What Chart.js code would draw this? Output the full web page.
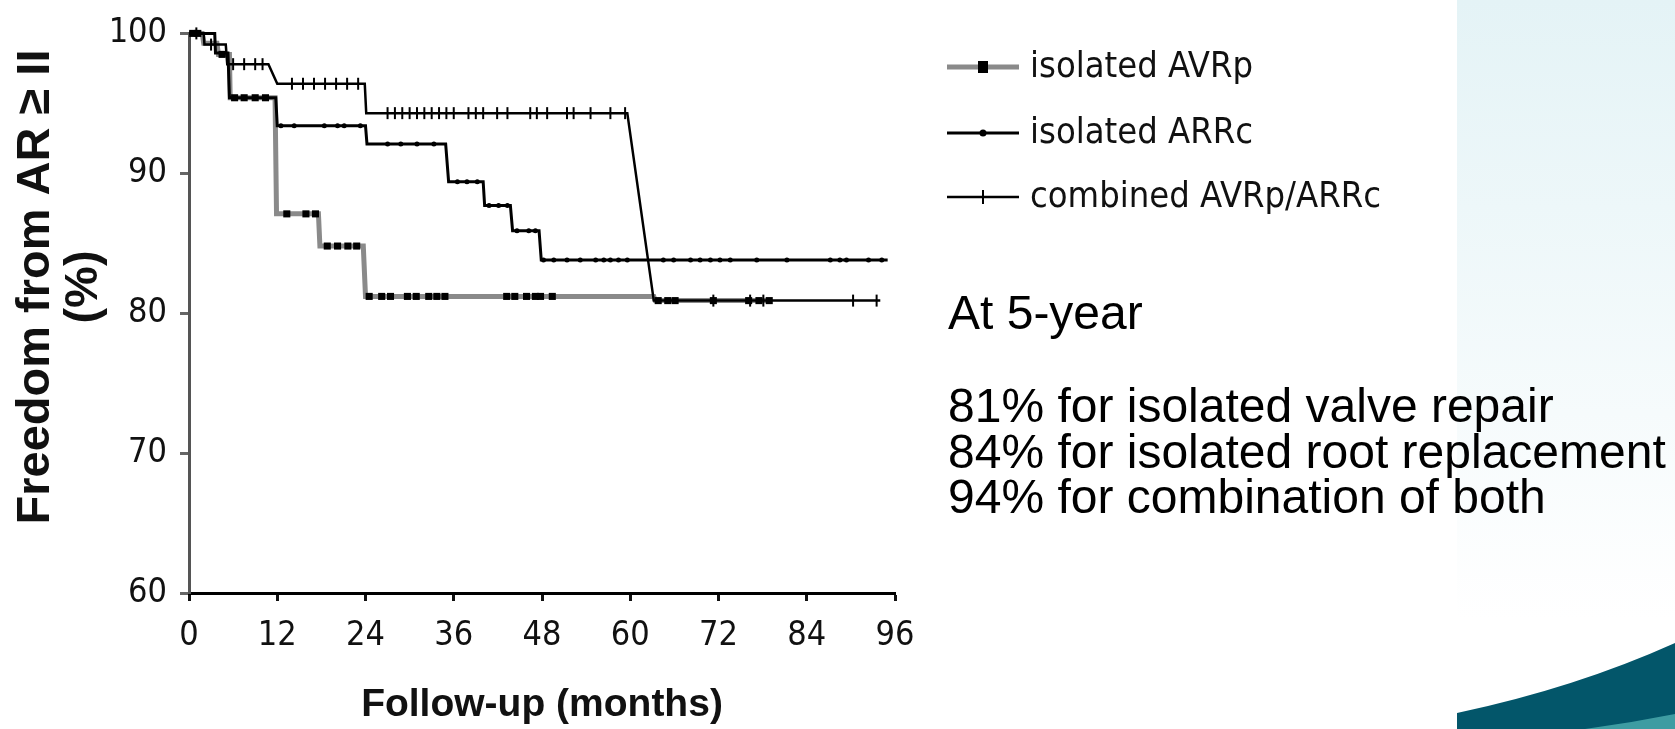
<!DOCTYPE html>
<html>
<head>
<meta charset="utf-8">
<script src="https://cdn.jsdelivr.net/npm/chart.js@4.4.1/dist/chart.umd.min.js"></script>
<style>
  html, body { margin: 0; padding: 0; background: #fff; }
  canvas { display: block; }
</style>
</head>
<body>
<canvas id="km-chart" width="1675" height="729"></canvas>
<script>
// series names and axis ticks
const seriesLabels = ['isolated AVRp', 'isolated ARRc', 'combined AVRp/ARRc'];
const xTickValues = [0, 12, 24, 36, 48, 60, 72, 84, 96];
const yTickValues = [60, 70, 80, 90, 100];

// Kaplan-Meier corners (months, % free from AR)
const avrpMonths = [0, 1.8, 2, 3.8, 4, 5.5, 5.6, 11.7, 11.9, 17.6, 17.8, 23.7, 24, 63.2, 63.4, 79];
const avrpValues = [100, 100, 99.3, 99.3, 98.5, 98.5, 95.4, 95.4, 87.1, 87.1, 84.8, 84.8, 81.2, 81.2, 80.9, 80.9];

const arrcMonths = [0, 3.5, 3.6, 5.3, 5.5, 11.8, 12, 24, 24.2, 34.9, 35.3, 40, 40.2, 43.7, 44, 47.6, 47.9, 95];
const arrcValues = [100, 100, 98.6, 98.6, 95.4, 95.4, 93.4, 93.4, 92.1, 92.1, 89.4, 89.4, 87.7, 87.7, 85.9, 85.9, 83.8, 83.8];

const combMonths = [0, 2, 2.1, 5, 5.2, 10.8, 12, 23.9, 24.1, 59.6, 63.2, 94];
const combValues = [100, 100, 99.2, 99.2, 97.8, 97.8, 96.4, 96.4, 94.3, 94.3, 80.9, 80.9];

// censoring ticks (months)
const avrpCensor = [0.5, 1.2, 4.5, 6.2, 7.5, 9, 10.4, 13.3, 15.9, 17.2, 18.8, 20.2, 21.6, 22.8, 24.5, 26.2, 27.4, 29.7, 30.9, 32.6, 33.7, 34.8, 43.2, 44.3, 45.9, 47.1, 47.8, 49.4, 63.8, 65.1, 66.1, 71.3, 76.1, 77.5, 78.9];
const arrcCensor = [12.5, 14.3, 18.4, 20.2, 21.1, 23.3, 27, 28.8, 31, 33.3, 36.5, 37.8, 39.2, 40.8, 42.1, 43.3, 44.6, 46.2, 47.1, 48.2, 49.6, 51.4, 53.2, 55.3, 56.4, 57.3, 58.4, 59.6, 64.5, 65.9, 68.2, 69.5, 70.9, 72.2, 73.6, 77.2, 81.3, 87.2, 88.5, 89.4, 92.4, 94.2];
const combCensor = [1, 3, 6, 7.5, 9, 10, 14, 15.5, 17, 18.5, 20, 21.5, 23, 27, 28, 29, 30, 31, 32, 33, 34, 35, 36, 38, 39, 40, 41.9, 43.3, 46.4, 47.3, 48.7, 51.4, 52.3, 54.6, 57.3, 59.3, 71.3, 76.3, 78.1, 90.3, 93.5];

// slide text
const noteHeading = 'At 5-year';
const noteLines = ['81% for isolated valve repair', '84% for isolated root replacement', '94% for combination of both'];
const yTitle = ['Freedom from AR \u2265 II', '(%)'];
const xTitle = 'Follow-up (months)';

const NARROW = "'Liberation Sans Narrow', 'DejaVu Sans Condensed', sans-serif";
const SANS = "'Liberation Sans', Arial, sans-serif";

function toPoints(months, values) {
    return months.map((m, i) => ({ x: m, y: values[i] }));
}

function censorPoints(censor, months, values) {
    return censor.map(t => {
        let v = values[0];
        for (let i = 0; i < months.length; i++) {
            if (months[i] <= t) v = values[i];
        }
        return { x: t, y: v };
    });
}

const lineStyles = [
    { color: '#8a8a8a', width: 5, marker: 'rect' },
    { color: '#000000', width: 3, marker: 'circle' },
    { color: '#000000', width: 2.5, marker: 'tick' }
];

function drawMarker(ctx, style, x, y) {
    ctx.fillStyle = '#000';
    ctx.strokeStyle = '#000';
    if (style.marker === 'rect') {
        ctx.fillRect(x - 5, y - 6, 10, 12);
    } else if (style.marker === 'circle') {
        ctx.beginPath();
        ctx.arc(x, y, 3.5, 0, Math.PI * 2);
        ctx.fill();
    } else {
        ctx.lineWidth = 2;
        ctx.beginPath();
        ctx.moveTo(x, y - 7);
        ctx.lineTo(x, y + 7);
        ctx.stroke();
    }
}

const slidePlugin = {
    id: 'slide',
    beforeDraw(chart) {
        const ctx = chart.ctx;
        ctx.save();
        // light panel at right
        const g = ctx.createLinearGradient(0, 0, 0, 620);
        g.addColorStop(0, '#e4f3f6');
        g.addColorStop(1, '#ffffff');
        ctx.fillStyle = g;
        ctx.fillRect(1457, 0, 218, 729);
        // teal swoosh
        ctx.fillStyle = '#03566a';
        ctx.beginPath();
        ctx.moveTo(1457, 713);
        ctx.quadraticCurveTo(1575, 688, 1675, 643);
        ctx.lineTo(1675, 729);
        ctx.lineTo(1457, 729);
        ctx.closePath();
        ctx.fill();
        ctx.fillStyle = '#3e9ca2';
        ctx.beginPath();
        ctx.moveTo(1585, 729);
        ctx.quadraticCurveTo(1630, 723, 1675, 714);
        ctx.lineTo(1675, 729);
        ctx.closePath();
        ctx.fill();
        ctx.restore();
    },
    afterDraw(chart) {
        const ctx = chart.ctx;
        ctx.save();

        // y axis title, two rotated lines
        ctx.fillStyle = '#111';
        ctx.font = 'bold 47px ' + SANS;
        ctx.textAlign = 'center';
        ctx.textBaseline = 'middle';
        yTitle.forEach((t, i) => {
            ctx.save();
            ctx.translate(36 + i * 48, 287);
            ctx.rotate(-Math.PI / 2);
            ctx.fillText(t, 0, 0);
            ctx.restore();
        });

        // legend
        const rows = [67, 133, 197];
        ctx.font = '36px ' + NARROW;
        ctx.textAlign = 'left';
        chart.data.datasets.filter(d => seriesLabels.includes(d.label)).forEach((d, i) => {
            const st = lineStyles[i];
            const y = rows[i];
            ctx.strokeStyle = st.color;
            ctx.lineWidth = st.width;
            ctx.beginPath();
            ctx.moveTo(947, y);
            ctx.lineTo(1019, y);
            ctx.stroke();
            drawMarker(ctx, st, 983, y);
            ctx.fillStyle = '#111';
            ctx.fillText(d.label, 1030, y + 1);
        });

        // notes
        ctx.fillStyle = '#000';
        ctx.font = '48px ' + SANS;
        ctx.textBaseline = 'alphabetic';
        ctx.fillText(noteHeading, 948, 329);
        noteLines.forEach((t, i) => ctx.fillText(t, 948, 422 + i * 45.5));
        ctx.restore();
    }
};

const datasets = [
    { label: seriesLabels[0], data: toPoints(avrpMonths, avrpValues), borderColor: lineStyles[0].color, borderWidth: 5, order: 3 },
    { label: seriesLabels[1], data: toPoints(arrcMonths, arrcValues), borderColor: lineStyles[1].color, borderWidth: 3, order: 2 },
    { label: seriesLabels[2], data: toPoints(combMonths, combValues), borderColor: lineStyles[2].color, borderWidth: 2.5, order: 1 },
    { label: 'AVRp censored', data: censorPoints(avrpCensor, avrpMonths, avrpValues), showLine: false,
      pointStyle: 'rect', pointRadius: 5, pointBackgroundColor: '#000', pointBorderColor: '#000', pointBorderWidth: 0, order: 0 },
    { label: 'ARRc censored', data: censorPoints(arrcCensor, arrcMonths, arrcValues), showLine: false,
      pointStyle: 'circle', pointRadius: 2.5, pointBackgroundColor: '#000', pointBorderColor: '#000', pointBorderWidth: 0, order: 0 },
    { label: 'combined censored', data: censorPoints(combCensor, combMonths, combValues), showLine: false,
      pointStyle: 'line', rotation: 90, pointRadius: 6, pointBorderColor: '#000', pointBorderWidth: 2, order: 0 }
];
datasets.forEach(d => {
    d.clip = false;
    d.tension = 0;
    d.fill = false;
    if (d.pointRadius === undefined) d.pointRadius = 0;
});

new Chart(document.getElementById('km-chart').getContext('2d'), {
    type: 'line',
    data: { datasets: datasets },
    options: {
        responsive: false,
        devicePixelRatio: 1,
        animation: false,
        layout: { padding: { left: 0, right: 780, top: 25, bottom: 0 } },
        plugins: { legend: { display: false }, tooltip: { enabled: false } },
        scales: {
            x: {
                type: 'linear',
                min: 0,
                max: 96,
                afterBuildTicks: s => { s.ticks = xTickValues.map(v => ({ value: v })); },
                afterFit: s => { s.height = 136; },
                border: { display: true, color: '#000', width: 3 },
                grid: { display: true, drawOnChartArea: false, drawTicks: true, tickLength: 8, tickWidth: 3, tickColor: '#111' },
                ticks: { autoSkip: false, maxRotation: 0, padding: 15, color: '#111', font: { family: NARROW, size: 34 } },
                title: { display: true, text: xTitle, color: '#111', padding: 0, font: { family: SANS, size: 39, weight: 'bold' } }
            },
            y: {
                type: 'linear',
                min: 60,
                max: 100,
                afterBuildTicks: s => { s.ticks = yTickValues.map(v => ({ value: v })); },
                afterFit: s => { s.width = 189; },
                border: { display: true, color: '#555', width: 3 },
                grid: { display: true, drawOnChartArea: false, drawTicks: true, tickLength: 9, tickWidth: 3, tickColor: '#666' },
                ticks: { padding: 13, color: '#111', font: { family: NARROW, size: 34 } }
            }
        }
    },
    plugins: [slidePlugin]
});
</script>
</body>
</html>
